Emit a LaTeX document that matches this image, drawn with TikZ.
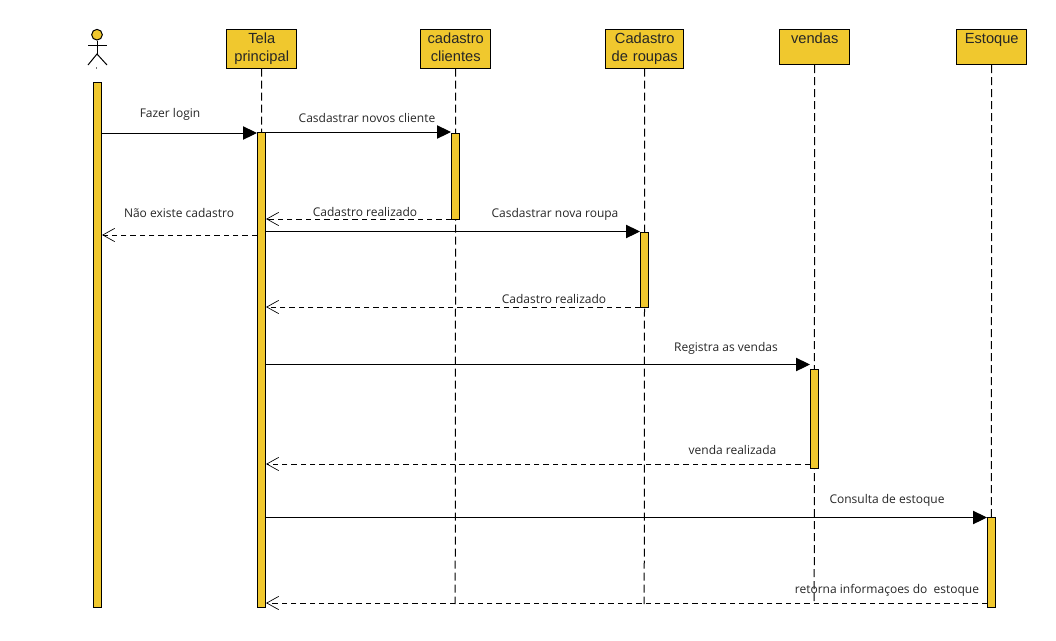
\documentclass[tikz,border=0pt]{standalone}
\usepackage{fontspec}
\setmainfont{Liberation Sans}
\newfontfamily\msgfont{Open Sans}
\usetikzlibrary{arrows.meta}
\definecolor{fillY}{HTML}{F0C82E}
\tikzset{
  x=0.75pt,y=-0.75pt,
  head/.style={draw=black,fill=fillY,line width=0.8pt,anchor=north west,inner sep=0pt,text width=#1*0.75pt,align=center,font=\fontsize{11}{13.5}\selectfont,text=black!85},
  act/.style={draw=black,fill=fillY,line width=0.8pt,anchor=north west,inner sep=0pt,minimum width=6pt},
  life/.style={line width=0.75pt,dash pattern=on 6pt off 3pt},
  call/.style={line width=0.75pt,-{Triangle[length=10.5pt,width=10pt]}},
  back/.style={line width=0.6pt,dash pattern=on 4pt off 3pt,-{Straight Barb[length=9pt,width=10pt,line width=0.5pt]}},
  msg/.style={font=\msgfont\fontsize{9}{11}\selectfont,text=black!85,inner sep=0pt,anchor=base},
  limb/.style={line width=0.75pt}
}
\begin{document}
\begin{tikzpicture}
\useasboundingbox (0,0) rectangle (1056,640);
\coordinate (e1) at (261.2,607);
\coordinate (e2) at (455.2,604);
\coordinate (e3) at (644.2,604);
\coordinate (e4) at (814.2,604);
\coordinate (e5) at (991.2,604);
\node[head=70,minimum height=39*0.75pt] (h1) at (226.2,28.5) {\strut Tela\\\strut principal};
\node[head=70,minimum height=39*0.75pt] (h2) at (420.2,28.5) {\strut cadastro\\\strut clientes};
\node[head=78,minimum height=39*0.75pt] (h3) at (605.2,28.5) {\strut Cadastro\\\strut de roupas};
\node[head=70,minimum height=35.5*0.75pt,text depth=12.8pt] (h4) at (779.2,28.5) {vendas};
\node[head=70,minimum height=35.5*0.75pt,text depth=12.8pt] (h5) at (956.2,28.5) {Estoque};
\draw[life] (h1.south) -- (e1);
\draw[life] (h2.south) -- (e2);
\draw[life] (h3.south) -- (e3);
\draw[life] (h4.south) -- (e4);
\draw[life] (h5.south) -- (e5);
% actor
\node[draw=black,fill=fillY,line width=0.75pt,circle,inner sep=0pt,minimum size=8pt] (ahead) at (97,34.7) {};
\coordinate (hip) at (97,54);
\coordinate (armL) at (88,45);
\coordinate (armR) at (107,45);
\coordinate (legL) at (88,65);
\coordinate (legR) at (107,65);
\draw[limb] (ahead.south) -- (hip);
\draw[limb] (armL) -- (armR);
\draw[limb] (legL) -- (hip) -- (legR);
\fill[black!55] (96.3,67) rectangle (97.3,69.2);
% activations
\node[act,minimum height=525*0.75pt] (a0) at (93,82) {};
\node[act,minimum height=475.5*0.75pt] (a1) at (257,131.5) {};
\node[act,minimum height=86.5*0.75pt] (a2) at (451,132.5) {};
\node[act,minimum height=75.5*0.75pt] (a3) at (640,231.5) {};
\node[act,minimum height=99.5*0.75pt] (a4) at (810,368.5) {};
\node[act,minimum height=90*0.75pt] (a5) at (987,517) {};
% messages
\draw[call] (a0.east |- 0,133) -- (a1.west |- 0,133);
\draw[call] (a1.east |- 0,132) -- (a2.west |- 0,132);
\draw[back] (a2.west |- 0,219) -- (a1.east |- 0,219);
\draw[back] (a1.west |- 0,235) -- (a0.east |- 0,235);
\draw[call] (a1.east |- 0,231.5) -- (a3.west |- 0,231.5);
\draw[back] (a3.west |- 0,307) -- (a1.east |- 0,307);
\draw[call] (a1.east |- 0,364.5) -- (a4.west |- 0,364.5);
\draw[back] (a4.west |- 0,464) -- (a1.east |- 0,464);
\draw[call] (a1.east |- 0,517.5) -- (a5.west |- 0,517.5);
\draw[back] (a5.west |- 0,603) -- (a1.east |- 0,603);
% labels
\node[msg] (t1) at (170,117) {Fazer login};
\node[msg] (t2) at (367,122) {Casdastrar novos cliente};
\node[msg] (t3) at (365,216) {Cadastro realizado};
\node[msg] (t4) at (179,217) {Não existe cadastro};
\node[msg] (t5) at (555,217) {Casdastrar nova roupa};
\node[msg] (t6) at (554,303) {Cadastro realizado};
\node[msg] (t7) at (726,351) {Registra as vendas};
\node[msg] (t8) at (732.5,454) {venda realizada};
\node[msg] (t9) at (887,503) {Consulta de estoque};
\node[msg] (t10) at (887,593) {retorna informaçoes do\ \ estoque};
\end{tikzpicture}
\end{document}
